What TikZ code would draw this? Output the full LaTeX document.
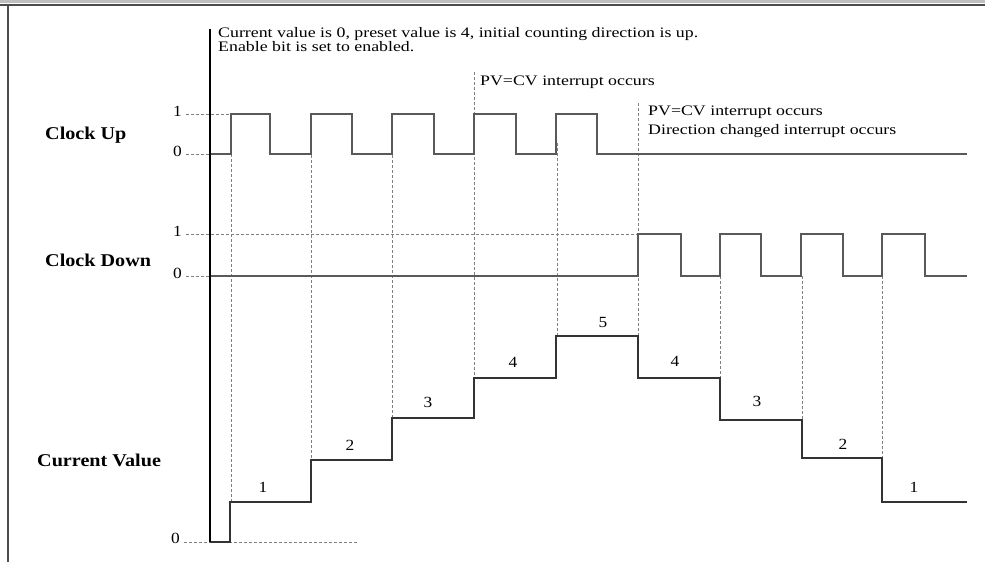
\documentclass[tikz,border=0pt]{standalone}
\usepackage{fontspec}
\setmainfont{Liberation Serif}[FakeStretch=1.12]
\newfontfamily\notefont{Liberation Serif}[FakeStretch=1.23]
\begin{document}
\begin{tikzpicture}[x=1pt,y=-1pt,
  wave/.style={draw=black!65, line width=1.5pt, line join=miter},
  stepline/.style={draw=black!80, line width=1.6pt},
  guide/.style={draw=black!50, line width=0.8pt, dash pattern=on 3pt off 2pt},
  enable/.style={draw=black, line width=2pt},
  note/.style={font=\notefont\fontsize{14.5}{16}\selectfont, inner sep=0pt, anchor=base west},
  sig/.style={font=\bfseries\fontsize{18}{20}\selectfont, inner sep=0pt, anchor=base west},
  tick/.style={font=\fontsize{15.5}{17}\selectfont, inner sep=0pt, anchor=east},
  val/.style={font=\fontsize{15.5}{17}\selectfont, inner sep=0pt}]
\useasboundingbox (0,0) rectangle (985,562);
% window frame
\fill[black!25] (0,0) rectangle (985,3);
\draw[black!70, line width=2pt] (0,5) -- (985,5);
\draw[black!70, line width=2pt] (7.5,5) -- (7.5,562);

% signal names
\node[sig] (cu) at (45,139) {Clock Up};
\node[sig] (cd) at (45,266) {Clock Down};
\node[sig] (cv) at (37,466) {Current Value};

% tick labels
\node[tick] (t1) at (182,111) {1};
\node[tick] (t0) at (182,151) {0};
\node[tick] (d1) at (182,231) {1};
\node[tick] (d0) at (182,273) {0};
\node[tick] (v0) at (180,538) {0};

% horizontal guides
\draw[guide] (186,114) -- (231,114);
\draw[guide] (186,154) -- (210,154);
\draw[guide] (186,234) -- (638,234);
\draw[guide] (186,276) -- (210,276);
\draw[guide] (184,542) -- (358,542);

% vertical guides
\draw[guide] (231,154) -- (231,502);
\draw[guide] (311,140) -- (311,460);
\draw[guide] (392,140) -- (392,418);
\draw[guide] (474,72) -- (474,378);
\draw[guide] (557,143) -- (557,336);
\draw[guide] (638,103) -- (638,336);
\draw[guide] (720,276) -- (720,378);
\draw[guide] (802,276) -- (802,420);
\draw[guide] (882,276) -- (882,458);

% clock up
\draw[wave] (210,154) -- (231,154)
  -- (231,114) -- (270,114) -- (270,154) -- (311,154)
  -- (311,114) -- (352,114) -- (352,154) -- (392,154)
  -- (392,114) -- (434,114) -- (434,154) -- (474,154)
  -- (474,114) -- (516,114) -- (516,154) -- (556,154)
  -- (556,114) -- (597,114) -- (597,154) -- (967,154);

% clock down
\draw[wave] (210,276) -- (638,276)
  -- (638,234) -- (681,234) -- (681,276) -- (720,276)
  -- (720,234) -- (761,234) -- (761,276) -- (801,276)
  -- (801,234) -- (843,234) -- (843,276) -- (882,276)
  -- (882,234) -- (925,234) -- (925,276) -- (967,276);

% current value
\draw[stepline] (210,542) -- (230,542) -- (230,502) -- (311,502)
  -- (311,460) -- (392,460) -- (392,418) -- (474,418)
  -- (474,378) -- (556,378) -- (556,336) -- (638,336)
  -- (638,378) -- (720,378) -- (720,420) -- (802,420)
  -- (802,458) -- (882,458) -- (882,502) -- (967,502);

% enable line
\draw[enable] (210,29) -- (210,542);

% step values
\node[val] (s1) at (263,487) {1};
\node[val] (s2) at (350,445) {2};
\node[val] (s3) at (428,402) {3};
\node[val] (s4) at (513,362) {4};
\node[val] (s5) at (603,322) {5};
\node[val] (s6) at (675,361) {4};
\node[val] (s7) at (757,401) {3};
\node[val] (s8) at (843,444) {2};
\node[val] (s9) at (914,487) {1};

% notes
\node[note] (n1) at (218,37) {Current value is 0, preset value is 4, initial counting direction is up.};
\node[note] (n2) at (218,51) {Enable bit is set to enabled.};
\node[note] (n3) at (480,85) {PV=CV interrupt occurs};
\node[note] (n4) at (648,115) {PV=CV interrupt occurs};
\node[note] (n5) at (648,134) {Direction changed interrupt occurs};
\end{tikzpicture}
\end{document}
